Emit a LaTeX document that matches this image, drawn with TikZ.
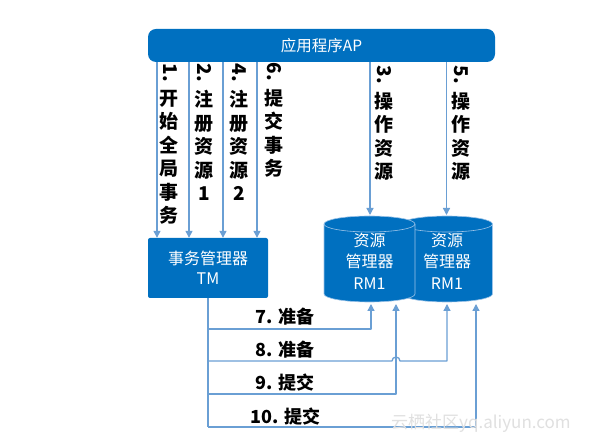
\documentclass[tikz,border=0pt]{standalone}
\usepackage{fontspec}
\setmainfont{Noto Sans CJK SC}
\usetikzlibrary{arrows.meta}
\definecolor{boxblue}{HTML}{0070C0}
\definecolor{linkblue}{HTML}{6A9FD4}
\definecolor{edgeblue}{HTML}{9CC3E8}
\begin{document}
\begin{tikzpicture}[x=1pt,y=1pt,
  box/.style={fill=boxblue, text=white, inner sep=0pt, align=center},
  link/.style={draw=linkblue, line width=1.3pt, line join=round},
  arr/.style={link, -{Triangle[length=7pt,width=7pt]}},
  vlab/.style={font=\bfseries\fontsize{19}{23.5}\selectfont, align=center, inner sep=0pt, anchor=north},
  vnum/.style={font=\bfseries\fontsize{19}{23}\selectfont, inner sep=0pt, rotate=-90},
  hlab/.style={font=\bfseries\fontsize{18}{20}\selectfont, inner sep=0pt},
  cyl/.style={fill=boxblue, draw=edgeblue, line width=0.6pt}
]
\useasboundingbox (0,0) rectangle (595,447);
\fill[white] (0,0) rectangle (595,447);

% application bar
\node[box, rounded corners=8pt, minimum width=347pt, minimum height=33pt,
      font=\fontsize{15.5}{18}\selectfont] (AP) at (321.5,401.5) {应用程序AP};

% transaction manager
\node[box, rounded corners=2pt, minimum width=120pt, minimum height=60pt,
      font=\fontsize{16}{20}\selectfont] (TM) at (208,179) {事务管理器\\TM};

% resource managers (cylinders): right one first, left one on top
\foreach \cx in {447,369.5}{
  \filldraw[cyl] (\cx-45.5,223) -- (\cx-45.5,153)
     arc[start angle=180,end angle=360,x radius=45.5,y radius=8]
     -- (\cx+45.5,223)
     arc[start angle=0,end angle=180,x radius=45.5,y radius=8] -- cycle;
  \draw[draw=edgeblue, line width=0.6pt] (\cx-45.5,223)
     arc[start angle=180,end angle=360,x radius=45.5,y radius=8];
}
\node[box, fill=none, font=\fontsize{16}{21.5}\selectfont] (RMa) at (369.5,186) {资源\\管理器\\RM1};
\node[box, fill=none, font=\fontsize{16}{21.5}\selectfont] (RMb) at (447,186) {资源\\管理器\\RM1};

% downward arrows AP -> TM
\foreach \x in {157,189,223,257}{
  \draw[arr] (AP.south -| \x,0) -- (TM.north -| \x,0);
}
% downward arrows AP -> RM
\coordinate (ta) at (370,232);
\coordinate (tb) at (446.5,232);
\draw[arr] (AP.south -| ta) -- (ta);
\draw[arr] (AP.south -| tb) -- (tb);

% vertical labels
\node[vnum] (n1) at (170,374) {1.};
\node[vlab] (l1) at (169,357) {开\\始\\全\\局\\事\\务};
\node[vnum] (n2) at (204,374) {2.};
\node[vlab] (l2) at (204,357) {注\\册\\资\\源\\1};
\node[vnum] (n4) at (239,374) {4.};
\node[vlab] (l4) at (239,357) {注\\册\\资\\源\\2};
\node[vnum] (n6) at (274,375) {6.};
\node[vlab] (l6) at (274,358) {提\\交\\事\\务};
\node[vnum] (n3) at (384,372) {3.};
\node[vlab] (l3) at (384,355) {操\\作\\资\\源};
\node[vnum] (n5) at (461,372) {5.};
\node[vlab] (l5) at (461,355) {操\\作\\资\\源};

% bottom: TM -> RMs
\coordinate (b7) at (371,143);
\coordinate (b9) at (396,143);
\coordinate (b8) at (447,143);
\coordinate (b10) at (476,143);
\draw[link] (TM.south) -- (TM.south |- 0,20);
\draw[arr] (TM.south |- 0,118) -- (b7 |- 0,118) -- (b7);
\draw[arr] (TM.south |- 0,86) -- (392,86)
   arc[start angle=180,end angle=0,radius=4] -- (b8 |- 0,86) -- (b8);
\draw[arr] (TM.south |- 0,53) -- (b9 |- 0,53) -- (b9);
\draw[arr] (TM.south |- 0,20) -- (b10 |- 0,20) -- (b10);

\node[hlab] (l7) at (285,130) {7. 准备};
\node[hlab] (l8) at (285,97) {8. 准备};
\node[hlab] (l9) at (285,64) {9. 提交};
\node[hlab] (l10) at (285.5,30) {10. 提交};

% watermark
\node[text=black!12, font=\fontsize{17}{20}\selectfont, inner sep=0pt, anchor=west] (wm) at (391,24) {云栖社区yq.aliyun.com};
\end{tikzpicture}
\end{document}
